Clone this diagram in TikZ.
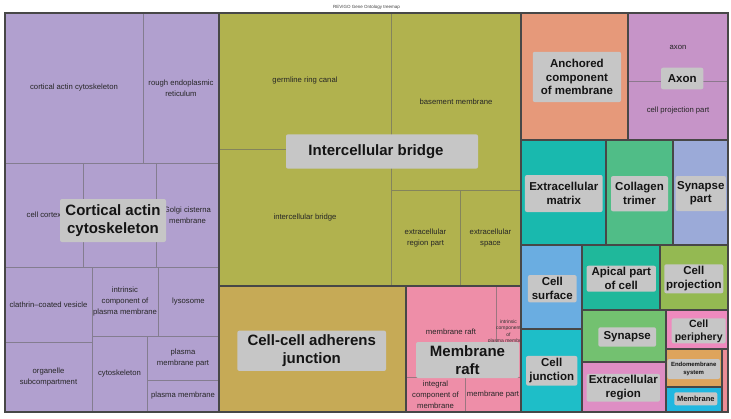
\documentclass[tikz,border=0pt]{standalone}
\usepackage{fontspec}
\setmainfont{Liberation Sans}
\definecolor{cPurple}{HTML}{B1A0CF}
\definecolor{cOlive}{HTML}{B1B24E}
\definecolor{cGold}{HTML}{C6AA56}
\definecolor{cRaft}{HTML}{EE8EA8}
\definecolor{cAnch}{HTML}{E6997A}
\definecolor{cAxon}{HTML}{C694C8}
\definecolor{cEcm}{HTML}{19B9AE}
\definecolor{cColl}{HTML}{50BD87}
\definecolor{cSynP}{HTML}{9BAAD8}
\definecolor{cSurf}{HTML}{6AADE1}
\definecolor{cJunc}{HTML}{1EBEC8}
\definecolor{cApic}{HTML}{1FB89B}
\definecolor{cProj}{HTML}{94B952}
\definecolor{cSyn}{HTML}{73C170}
\definecolor{cExtR}{HTML}{DE8EC4}
\definecolor{cPeri}{HTML}{EE8ABE}
\definecolor{cEndo}{HTML}{DEA45C}
\definecolor{cMemb}{HTML}{21B7E0}
\definecolor{cStrip}{HTML}{EC8C96}
\definecolor{lblgray}{HTML}{C6C6C6}
\tikzset{
  cellline/.style={draw=black!60, draw opacity=0.6, line width=0.6pt},
  grpline/.style={draw=black!72, line width=1.1pt},
  smalltxt/.style={font=\fontsize{7.7}{11}\selectfont, text=black!85, align=center, inner sep=0pt},
  lbl/.style={fill=lblgray, rounded corners=2pt, inner sep=0pt, align=center, text=black!92},
  bigf/.style={font=\fontsize{15}{17.7}\selectfont\bfseries},
  midf/.style={font=\fontsize{11.5}{13.7}\selectfont\bfseries},
}
\newcommand\tmcell[7]{%
  \draw[cellline,fill=#6] (#2,#3) rectangle (#4,#5);
  \node[smalltxt] (#1) at ({(#2+#4)/2},{(#3+#5)/2}) {#7};}
\begin{document}
\begin{tikzpicture}[x=1pt,y=-1pt]
\useasboundingbox[fill=white] (0,0) rectangle (731,418);
\node[font=\fontsize{4.5}{5}\selectfont, text=black!75, inner sep=0pt] (title) at (366.5,7.5) {REVIGO Gene Ontology treemap};
% ---- purple group
\tmcell{p1}{5}{13}{143}{163}{cPurple}{cortical actin cytoskeleton}
\tmcell{p2}{143}{13}{219}{163}{cPurple}{rough endoplasmic\\reticulum}
\tmcell{p3}{5}{163}{83}{267}{cPurple}{cell cortex}
\tmcell{p4}{83}{163}{156}{267}{cPurple}{}
\tmcell{p5}{156}{163}{219}{267}{cPurple}{Golgi cisterna\\membrane}
\tmcell{p6}{5}{267}{92}{342}{cPurple}{clathrin–coated vesicle}
\tmcell{p7}{92}{267}{158}{336}{cPurple}{intrinsic\\component of\\plasma membrane}
\tmcell{p8}{158}{267}{219}{336}{cPurple}{lysosome}
\tmcell{p9}{5}{342}{92}{412}{cPurple}{organelle\\subcompartment}
\tmcell{p10}{92}{336}{147}{412}{cPurple}{cytoskeleton}
\tmcell{p11}{147}{336}{219}{380}{cPurple}{plasma\\membrane part}
\tmcell{p12}{147}{380}{219}{412}{cPurple}{plasma membrane}
% ---- olive group
\tmcell{o1}{219}{13}{391}{149}{cOlive}{germline ring canal}
\tmcell{o2}{219}{149}{391}{286}{cOlive}{intercellular bridge}
\tmcell{o3}{391}{13}{521}{190}{cOlive}{basement membrane}
\tmcell{o4}{391}{190}{460}{286}{cOlive}{extracellular\\region part}
\tmcell{o5}{460}{190}{521}{286}{cOlive}{extracellular\\space}
% ---- gold group
\tmcell{g1}{219}{286}{406}{412}{cGold}{}
% ---- raft group
\tmcell{r1}{406}{286}{496}{377}{cRaft}{membrane raft}
\tmcell{r2}{496}{286}{521}{377}{cRaft}{}
\node[font=\fontsize{5}{6.5}\selectfont, text=black!80, align=center, inner sep=0pt] (r2t) at (508.5,331.5) {intrinsic\\component\\of\\plasma membrane};
\tmcell{r3}{406}{377}{465}{412}{cRaft}{integral\\component of\\membrane}
\tmcell{r4}{465}{377}{521}{412}{cRaft}{membrane part}
% ---- right side
\tmcell{a1}{521}{13}{628}{140}{cAnch}{}
\tmcell{x1}{628}{13}{728}{81}{cAxon}{axon}
\tmcell{x2}{628}{81}{728}{140}{cAxon}{cell projection part}
\tmcell{e1}{521}{140}{606}{245}{cEcm}{}
\tmcell{c1}{606}{140}{673}{245}{cColl}{}
\tmcell{s1}{673}{140}{728}{245}{cSynP}{}
\tmcell{u1}{521}{245}{582}{329}{cSurf}{}
\tmcell{j1}{521}{329}{582}{412}{cJunc}{}
\tmcell{ap1}{582}{245}{660}{310}{cApic}{}
\tmcell{pr1}{660}{245}{728}{310}{cProj}{}
\tmcell{sy1}{582}{310}{666}{362}{cSyn}{}
\tmcell{er1}{582}{362}{666}{412}{cExtR}{}
\tmcell{pe1}{666}{310}{728}{349}{cPeri}{}
\tmcell{en1}{666}{349}{722}{387}{cEndo}{}
\tmcell{me1}{666}{387}{722}{412}{cMemb}{}
\tmcell{st1}{722}{349}{728}{412}{cStrip}{}
% ---- group borders
\foreach \a/\b/\c/\d in {5/13/219/412, 219/13/521/286, 219/286/406/412, 406/286/521/412,
  521/13/628/140, 628/13/728/140, 521/140/606/245, 606/140/673/245, 673/140/728/245,
  521/245/582/329, 521/329/582/412, 582/245/660/310, 660/245/728/310, 582/310/666/362,
  582/362/666/412, 666/310/728/349, 666/349/722/387, 666/387/722/412, 722/349/728/412}
  \draw[grpline] (\a,\b) rectangle (\c,\d);
% ---- group labels
\node[lbl, bigf, minimum width=106pt, minimum height=43pt] (Lcort) at (113,220.5) {Cortical actin\\cytoskeleton};
\node[lbl, bigf, minimum width=192pt, minimum height=34.4pt] (Lbridge) at (382,151.5) {};
\node[bigf, inner sep=0pt, text=black!92] (Lbridget) at (376,151.5) {Intercellular bridge};
\node[lbl, bigf, minimum width=148.7pt, minimum height=40.3pt] (Ladh) at (311.7,350.8) {Cell-cell adherens\\junction};
\node[lbl, bigf, minimum width=103pt, minimum height=36pt] (Lraft) at (467.5,360) {Membrane\\raft};
\node[lbl, midf, minimum width=88.3pt, minimum height=50.3pt] (Lanch) at (576.9,76.9) {Anchored\\component\\of membrane};
\node[lbl, midf, minimum width=42.3pt, minimum height=21.6pt] (Laxon) at (682.2,78.5) {Axon};
\node[lbl, midf, minimum width=77.7pt, minimum height=37pt] (Lecm) at (563.8,193.5) {Extracellular\\matrix};
\node[lbl, midf, minimum width=57pt, minimum height=35.3pt] (Lcoll) at (639.5,193.7) {Collagen\\trimer};
\node[lbl, font=\fontsize{11.5}{13}\selectfont\bfseries, minimum width=50.3pt, minimum height=35pt] (Lsynp) at (700.8,193.5) {Synapse\\part};
\node[lbl, midf, minimum width=48.7pt, minimum height=27.3pt] (Lsurf) at (552.3,288.7) {Cell\\surface};
\node[lbl, midf, minimum width=51.3pt, minimum height=29.7pt] (Ljunc) at (551.7,370.8) {Cell\\junction};
\node[lbl, midf, minimum width=69.3pt, minimum height=26pt] (Lapic) at (621.3,278.7) {Apical part\\of cell};
\node[lbl, midf, minimum width=59pt, minimum height=29pt] (Lproj) at (693.8,278.8) {Cell\\projection};
\node[lbl, midf, minimum width=57.7pt, minimum height=19.4pt] (Lsyn) at (627.2,337) {Synapse};
\node[lbl, midf, minimum width=73.3pt, minimum height=27.7pt] (Lextr) at (623.3,387.8) {Extracellular\\region};
\node[lbl, font=\fontsize{10.5}{13}\selectfont\bfseries, minimum width=54pt, minimum height=25pt] (Lperi) at (698.7,330.8) {Cell\\periphery};
\node[lbl, font=\fontsize{6}{7.3}\selectfont\bfseries, minimum width=52.7pt, minimum height=20pt] (Lendo) at (693.7,369) {Endomembrane\\system};
\node[lbl, font=\fontsize{7.5}{8}\selectfont\bfseries, minimum width=43pt, minimum height=13pt] (Lmemb) at (695.8,398.8) {Membrane};
\end{tikzpicture}
\end{document}
